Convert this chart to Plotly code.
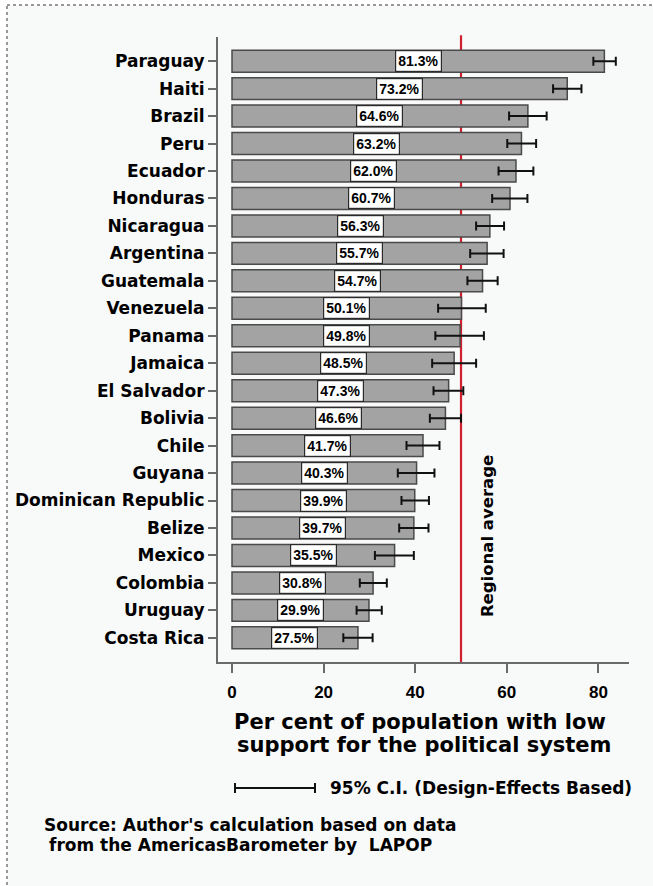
import plotly.graph_objects as go

# Survey results: share of population with low system support, with 95% CIs
countries = ["Paraguay", "Haiti", "Brazil", "Peru", "Ecuador", "Honduras",
             "Nicaragua", "Argentina", "Guatemala", "Venezuela", "Panama",
             "Jamaica", "El Salvador", "Bolivia", "Chile", "Guyana",
             "Dominican Republic", "Belize", "Mexico", "Colombia", "Uruguay",
             "Costa Rica"]
values = [81.3, 73.2, 64.6, 63.2, 62.0, 60.7, 56.3, 55.7, 54.7, 50.1, 49.8,
          48.5, 47.3, 46.6, 41.7, 40.3, 39.9, 39.7, 35.5, 30.8, 29.9, 27.5]
ci_low = [78.9, 70.1, 60.5, 60.1, 58.2, 56.8, 53.3, 52.0, 51.4, 45.0, 44.4,
          43.7, 44.0, 43.2, 38.1, 36.2, 37.0, 36.5, 31.2, 27.9, 27.2, 24.3]
ci_high = [83.8, 76.3, 68.7, 66.4, 65.8, 64.5, 59.4, 59.3, 58.0, 55.4, 55.0,
           53.3, 50.5, 50.0, 45.3, 44.2, 43.0, 42.9, 39.7, 33.8, 32.7, 30.7]
regional_average = 50
x_ticks = [0, 20, 40, 60, 80]

W, H = 653, 886
ML, MR, MT, MB = 218, 24, 37, 224
PW, PH = W - ML - MR, H - MT - MB


def px_x(px):
    return (px - ML) / PW


def px_y(py):
    return (H - MB - py) / PH


BOLD = "DejaVu Sans"
fig = go.Figure()

# outer frame with dotted edge (drawn first so everything sits on top)
fig.add_shape(type="rect", xref="paper", yref="paper",
              x0=px_x(7), x1=px_x(W + 10), y0=px_y(5), y1=px_y(H + 10),
              fillcolor="#f8f9f9", line=dict(color="#777777", width=1.5, dash="dot"),
              layer="below")

# regional average reference line, behind the bars
fig.add_shape(type="line", xref="x", yref="paper", x0=regional_average,
              x1=regional_average, y0=0, y1=1.003,
              line=dict(color="#d0202e", width=2.2), layer="below")

fig.add_trace(go.Bar(
    x=values, y=countries, orientation="h", width=0.8,
    marker=dict(color="#a3a3a3", line=dict(color="#4a4a4a", width=1.5)),
    error_x=dict(type="data", symmetric=False,
                 array=[h - v for h, v in zip(ci_high, values)],
                 arrayminus=[v - l for v, l in zip(values, ci_low)],
                 color="#111111", thickness=2, width=4.5),
    hoverinfo="skip", showlegend=False,
))

# value boxes in the middle of each bar
for c, v in zip(countries, values):
    fig.add_annotation(
        x=v / 2, y=c, xref="x", yref="y", text=f"{v:.1f}%", showarrow=False,
        font=dict(family="Liberation Sans", size=14, color="black", weight="bold"),
        bgcolor="white", bordercolor="#2a2a2a", borderwidth=1.2, borderpad=2,
    )

fig.add_annotation(
    x=55.7, y=px_y(536), xref="x", yref="paper", text="Regional average",
    textangle=-90, showarrow=False, xanchor="center", yanchor="middle",
    font=dict(family=BOLD, size=16.5, color="black", weight="bold"),
)

# axis title, two lines
for text, xx, yy in [("Per cent of population with low", 420, 722),
                     ("support for the political system", 424, 745)]:
    fig.add_annotation(
        x=px_x(xx), y=px_y(yy), xref="paper", yref="paper", text=text,
        showarrow=False, xanchor="center", yanchor="middle",
        font=dict(family=BOLD, size=21, color="black", weight="bold"),
    )

# confidence interval key
ky = px_y(788)
fig.add_shape(type="line", xref="paper", yref="paper", x0=px_x(235), x1=px_x(315),
              y0=ky, y1=ky, line=dict(color="#111111", width=2))
for kx in (235, 315):
    fig.add_shape(type="line", xref="paper", yref="paper", x0=px_x(kx), x1=px_x(kx),
                  y0=px_y(783), y1=px_y(793), line=dict(color="#111111", width=2))
fig.add_annotation(
    x=px_x(328), y=ky, xref="paper", yref="paper",
    text="95% C.I. (Design-Effects Based)", showarrow=False,
    xanchor="left", yanchor="middle",
    font=dict(family=BOLD, size=17, color="black", weight="bold"),
)

# source note
for text, xx, yy in [("Source: Author's calculation based on data", 42, 825),
                     ("from the AmericasBarometer by&nbsp;&nbsp;LAPOP", 47, 845)]:
    fig.add_annotation(
        x=px_x(xx), y=px_y(yy), xref="paper", yref="paper", text=text,
        showarrow=False, xanchor="left", yanchor="middle",
        font=dict(family=BOLD, size=17, color="black", weight="bold"),
    )

fig.update_layout(
    width=W, height=H,
    margin=dict(l=ML, r=MR, t=MT, b=MB, pad=0),
    paper_bgcolor="white", plot_bgcolor="rgba(0,0,0,0)",
    bargap=0.2,
    xaxis=dict(range=[-3.06, 86.68], tickvals=x_ticks, ticks="outside",
               ticklen=9, tickwidth=2, tickcolor="#6a6a6a",
               showline=True, linecolor="#6a6a6a", linewidth=2,
               showgrid=False, zeroline=False, ticklabelstandoff=5,
               tickfont=dict(family="Liberation Sans", size=17, color="black",
                             weight="bold")),
    yaxis=dict(categoryorder="array", categoryarray=countries,
               range=[21.88, -0.88], ticks="outside", ticklen=8, tickwidth=1.5,
               tickcolor="#6a6a6a", showline=True, linecolor="#6a6a6a",
               linewidth=2, showgrid=False, zeroline=False,
               ticklabelstandoff=0,
               tickfont=dict(family=BOLD, size=17, color="black", weight="bold")),
)

fig.write_html("out.html")
